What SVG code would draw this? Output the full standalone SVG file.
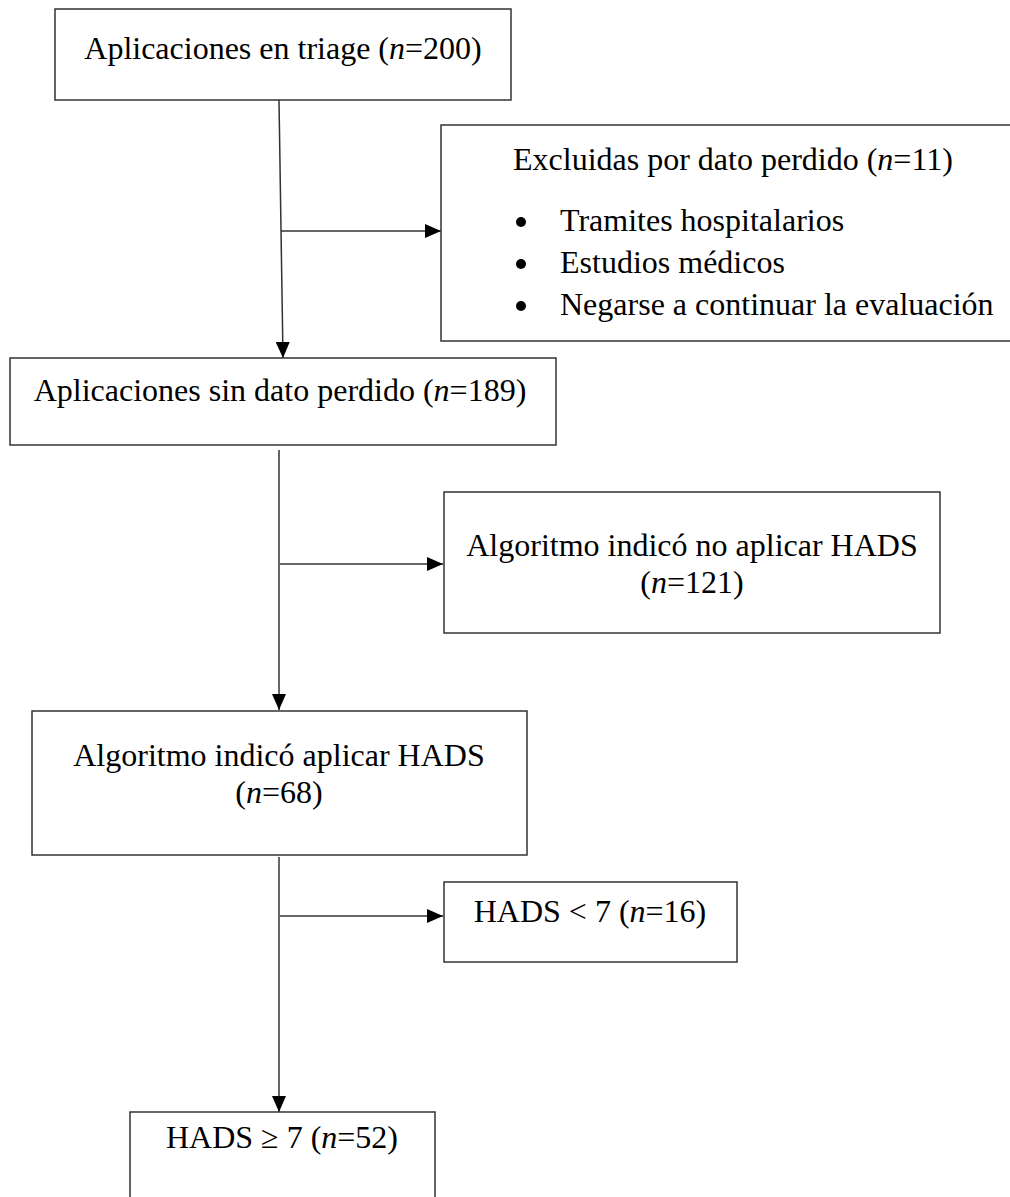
<svg xmlns="http://www.w3.org/2000/svg" width="1010" height="1197" viewBox="0 0 1010 1197">
<style>
.box{fill:#fff;stroke:#333;stroke-width:1.5}
.t{font-family:"Liberation Serif","Times New Roman",serif;font-size:32px;fill:#000}
.c{text-anchor:middle}
.i{font-style:italic}
.ln{fill:none;stroke:#333;stroke-width:1.5}
</style>
<defs>
<marker id="ah" markerWidth="16" markerHeight="14" refX="16" refY="7" orient="auto" markerUnits="userSpaceOnUse">
<path d="M0,0 L16,7 L0,14 Z" fill="#000"/>
</marker>
</defs>
<rect width="1010" height="1197" fill="#fff"/>
<g id="connectors">
<line class="ln" x1="279" y1="100" x2="283" y2="358" marker-end="url(#ah)"/>
<line class="ln" x1="281" y1="231" x2="441" y2="231" marker-end="url(#ah)"/>
<line class="ln" x1="279" y1="450" x2="279" y2="710" marker-end="url(#ah)"/>
<line class="ln" x1="280" y1="564" x2="443" y2="564" marker-end="url(#ah)"/>
<line class="ln" x1="279" y1="857" x2="279" y2="1112" marker-end="url(#ah)"/>
<line class="ln" x1="280" y1="916" x2="443" y2="916" marker-end="url(#ah)"/>
</g>
<g id="n1">
<rect class="box" x="55" y="9" width="456" height="91"/>
<text class="t c" x="283" y="59">Aplicaciones en triage (<tspan class="i">n</tspan>=200)</text>
</g>
<g id="n2">
<path class="box" d="M1012,125 L441,125 L441,341 L1012,341"/>
<text class="t" x="513" y="170">Excluidas por dato perdido (<tspan class="i">n</tspan>=11)</text>
<circle cx="521" cy="222" r="5" fill="#000"/>
<circle cx="521" cy="264" r="5" fill="#000"/>
<circle cx="521" cy="306" r="5" fill="#000"/>
<text class="t" x="560" y="231">Tramites hospitalarios</text>
<text class="t" x="560" y="273">Estudios médicos</text>
<text class="t" x="560" y="315">Negarse a continuar la evaluación</text>
</g>
<g id="n3">
<rect class="box" x="10" y="358" width="546" height="87"/>
<text class="t c" x="280" y="401">Aplicaciones sin dato perdido (<tspan class="i">n</tspan>=189)</text>
</g>
<g id="n4">
<rect class="box" x="444" y="492" width="496" height="141"/>
<text class="t c" x="692" y="556">Algoritmo indicó no aplicar HADS</text>
<text class="t c" x="692" y="593">(<tspan class="i">n</tspan>=121)</text>
</g>
<g id="n5">
<rect class="box" x="32" y="711" width="495" height="144"/>
<text class="t c" x="279" y="766">Algoritmo indicó aplicar HADS</text>
<text class="t c" x="279" y="803">(<tspan class="i">n</tspan>=68)</text>
</g>
<g id="n6">
<rect class="box" x="444" y="882" width="293" height="80"/>
<text class="t c" x="590" y="922">HADS &lt; 7 (<tspan class="i">n</tspan>=16)</text>
</g>
<g id="n7">
<rect class="box" x="130" y="1112" width="305" height="100"/>
<text class="t c" x="282" y="1148">HADS ≥ 7 (<tspan class="i">n</tspan>=52)</text>
</g>
</svg>
